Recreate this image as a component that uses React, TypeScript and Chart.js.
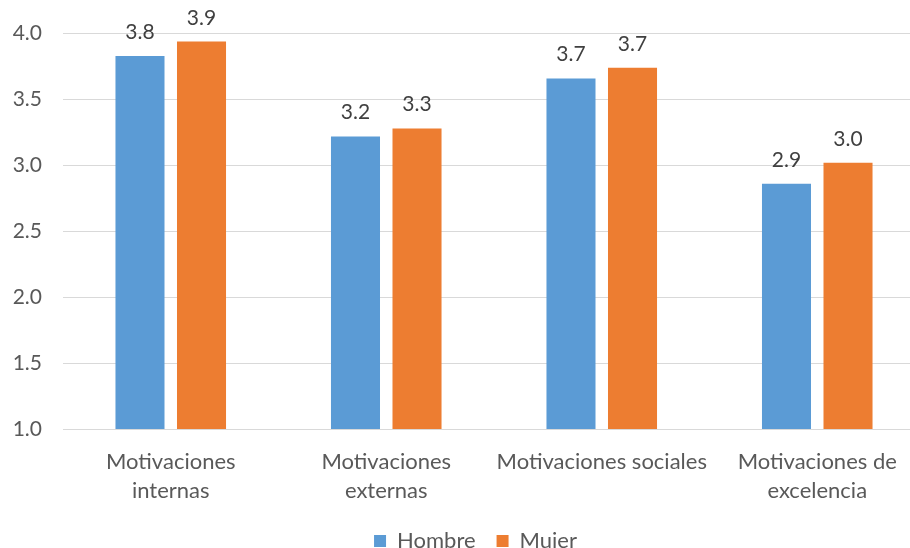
import React, { useEffect, useRef } from "react";
import { Chart, registerables } from "chart.js";

Chart.register(...registerables);

const categories: (string | string[])[] = [
  ["Motivaciones", "internas"],
  ["Motivaciones", "externas"],
  "Motivaciones sociales",
  ["Motivaciones de", "excelencia"],
];
const hombreValues = [3.83, 3.22, 3.66, 2.86];
const mujerValues = [3.94, 3.28, 3.74, 3.02];
const seriesNames = ["Hombre", "Muier"];
const yTicks = [1.0, 1.5, 2.0, 2.5, 3.0, 3.5, 4.0];

const FONT = "Lato, 'Open Sans', sans-serif";

const dataLabelPlugin = {
  id: "dataLabels",
  afterDatasetsDraw(chart: any) {
    const ctx = chart.ctx;
    ctx.save();
    ctx.font = `21px ${FONT}`;
    ctx.fillStyle = "#404040";
    ctx.textAlign = "center";
    ctx.textBaseline = "alphabetic";
    chart.data.datasets.forEach((ds: any, i: number) => {
      const meta = chart.getDatasetMeta(i);
      meta.data.forEach((bar: any, j: number) => {
        const v = ds.data[j] as number;
        ctx.fillText(v.toFixed(1), bar.x, bar.y - 17);
      });
    });
    ctx.restore();
  },
};

const legendShiftPlugin = {
  id: "legendShift",
  beforeDraw(chart: any) {
    const lg = chart.legend;
    if (lg && !lg._shifted) {
      lg.left += 13;
      lg.right += 13;
      lg._shifted = true;
    }
  },
  afterUpdate(chart: any) {
    if (chart.legend) chart.legend._shifted = false;
  },
};

export default function App() {
  const ref = useRef<HTMLCanvasElement>(null);
  useEffect(() => {
    if (!ref.current) return;
    const chart = new Chart(ref.current, {
      type: "bar",
      data: {
        labels: categories,
        datasets: [
          {
            label: seriesNames[0],
            data: hombreValues,
            backgroundColor: "#5B9BD5",
            categoryPercentage: 0.571,
            barPercentage: 0.797,
          },
          {
            label: seriesNames[1],
            data: mujerValues,
            backgroundColor: "#ED7D31",
            categoryPercentage: 0.571,
            barPercentage: 0.797,
          },
        ],
      },
      options: {
        responsive: false,
        animation: false,
        layout: { padding: { top: 33, right: 33, left: 0, bottom: -14 } },
        plugins: {
          tooltip: { enabled: false },
          legend: {
            position: "bottom",
            labels: {
              boxWidth: 12,
              boxHeight: 12,
              padding: 21,
              color: "#595959",
              font: { family: FONT, size: 22 },
            },
          },
        },
        scales: {
          x: {
            grid: { display: false },
            border: { color: "#d9d9d9" },
            ticks: {
              color: "#595959",
              font: { family: FONT, size: 22, lineHeight: 1.3 },
              padding: 11,
              maxRotation: 0,
              autoSkip: false,
            },
            afterFit: (s: any) => {
              s.height = 80;
            },
          },
          y: {
            min: 1,
            max: 4,
            border: { display: false },
            grid: { color: "#d9d9d9", drawTicks: false },
            afterBuildTicks: (s: any) => {
              s.ticks = yTicks.map((v) => ({ value: v }));
            },
            ticks: {
              color: "#595959",
              font: { family: FONT, size: 21 },
              padding: 21,
              callback: (v: any) => Number(v).toFixed(1),
            },
            afterFit: (s: any) => {
              s.width = 63;
            },
          },
        },
      },
      plugins: [dataLabelPlugin, legendShiftPlugin],
    });
    return () => chart.destroy();
  }, []);
  return (
    <div style={{ position: "fixed", left: 0, top: 0, width: 910, height: 548, overflow: "hidden", background: "#fff" }}>
      <canvas ref={ref} width={958} height={548} style={{ display: "block" }} />
    </div>
  );
}
